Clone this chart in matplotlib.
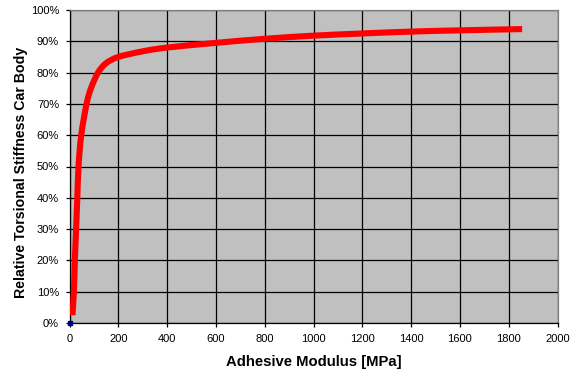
import matplotlib
matplotlib.use("Agg")
import matplotlib.pyplot as plt
from matplotlib.path import Path
from matplotlib.patches import PathPatch
from matplotlib.ticker import FuncFormatter

# Adhesive modulus [MPa] vs. relative torsional stiffness of the car body [%]
modulus = [12, 18, 22, 27, 32, 37, 48, 70, 88, 117, 150, 200, 300, 400,
           600, 800, 1000, 1200, 1400, 1600, 1855]
stiffness = [2.5, 10, 20, 30, 40, 50, 60, 70, 75, 80, 83, 85, 86.8, 88,
             89.5, 90.8, 91.8, 92.5, 93.1, 93.5, 93.9]

x_ticks = list(range(0, 2001, 200))
y_ticks = list(range(0, 101, 10))

plt.rcParams["font.family"] = ["Liberation Sans", "DejaVu Sans"]


def smooth_path(xs, ys):
    """Cubic Bezier path through the points (Catmull-Rom style smoothing)."""
    pts = list(zip(xs, ys))
    n = len(pts)
    verts = [pts[0]]
    codes = [Path.MOVETO]
    for i in range(n - 1):
        p0 = pts[max(i - 1, 0)]
        p1 = pts[i]
        p2 = pts[i + 1]
        p3 = pts[min(i + 2, n - 1)]
        c1 = (p1[0] + (p2[0] - p0[0]) / 6, p1[1] + (p2[1] - p0[1]) / 6)
        c2 = (p2[0] - (p3[0] - p1[0]) / 6, p2[1] - (p3[1] - p1[1]) / 6)
        verts += [c1, c2, p2]
        codes += [Path.CURVE4] * 3
    return Path(verts, codes)


W, H = 570, 373
left, right, top, bottom = 69.5, 557.5, 10, 323
fig = plt.figure(figsize=(W / 100, H / 100), dpi=100)
ax = fig.add_axes([left / W, 1 - bottom / H, (right - left) / W,
                   (bottom - top) / H])
ax.set_facecolor("#C0C0C0")

ax.set_xlim(0, 2000)
ax.set_ylim(0, 100)
ax.set_xticks(x_ticks)
ax.set_yticks(y_ticks)
ax.yaxis.set_major_formatter(FuncFormatter(lambda v, p: f"{int(v)}%"))

ax.grid(True, color="black", linewidth=0.9)
ax.set_axisbelow(True)

curve = PathPatch(smooth_path(modulus, stiffness), facecolor="none",
                  edgecolor="#FF0000", linewidth=4.4, capstyle="butt",
                  joinstyle="round", zorder=3)
ax.add_patch(curve)
ax.plot([0], [0], marker="s", markersize=2.5, color="#000080",
        linestyle="none", zorder=4, clip_on=False)

for side in ("top", "right"):
    ax.spines[side].set_color("#808080")
for side in ("left", "bottom"):
    ax.spines[side].set_color("black")
for sp in ax.spines.values():
    sp.set_linewidth(0.9)

ax.tick_params(axis="both", direction="out", length=3, width=0.9,
               labelsize=8, colors="black")
ax.tick_params(axis="x", pad=5)
ax.tick_params(axis="y", pad=4.5)

ax.set_xlabel("Adhesive Modulus [MPa]", fontsize=10.7, fontweight="bold")
ax.set_ylabel("Relative Torsional Stiffness Car Body", fontsize=10.2,
              fontweight="bold")
ax.xaxis.set_label_coords(0.5, (bottom - 355) / (bottom - top))
ax.yaxis.set_label_coords((28 - left) / (right - left), 0.481)

fig.savefig("out.png", dpi=100, facecolor="white")
